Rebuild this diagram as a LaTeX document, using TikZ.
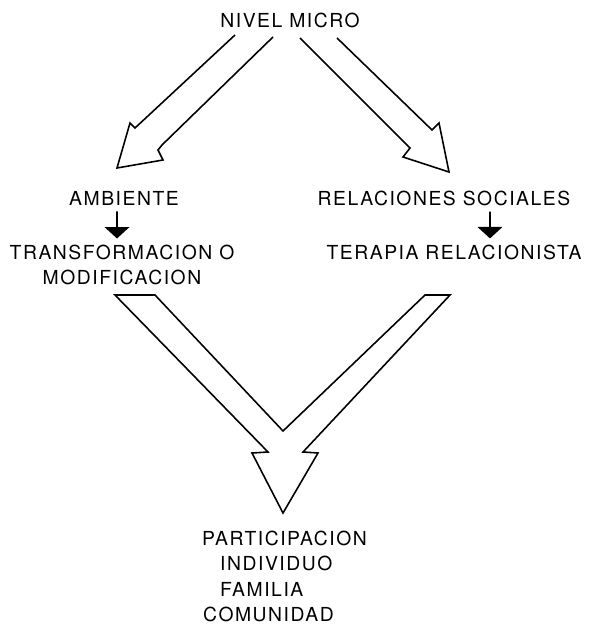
\documentclass[tikz,border=0pt]{standalone}
\usepackage{fontspec}
\setmainfont{TeX Gyre Heros}[LetterSpace=8]
\usetikzlibrary{arrows.meta}
\tikzset{
  lbl/.style={font=\fontsize{11}{14.7}\selectfont},
  bigarrow/.style={line width=0.9pt, line join=miter},
  smallarrow/.style={line width=1.1pt, -{Triangle[width=14pt,length=6.5pt]}}
}

\begin{document}
\begin{tikzpicture}[x=0.02cm, y=-0.02cm]
  \useasboundingbox (0,0) rectangle (591,625);

  \node [lbl] (micro) at (290, 20) {NIVEL MICRO};

  \node [lbl] (amb) at (124, 198) {AMBIENTE};
  \node [lbl, align=center] (trans) at (122, 265) {TRANSFORMACION O\\MODIFICACION};
  \draw [smallarrow] ([xshift=-0.14cm]amb.south) -- ([xshift=-0.1cm]trans.north);

  \node [lbl] (rel) at (444, 198) {RELACIONES SOCIALES};
  \node [lbl] (ter) at (454, 252) {TERAPIA RELACIONISTA};
  \draw [smallarrow] ([xshift=0.92cm]rel.south) -- ([xshift=0.72cm]ter.north);

  \node [lbl, anchor=west] (part) at (196, 538) {PARTICIPACION};
  \node [lbl, anchor=west] (ind)  at (214, 563) {INDIVIDUO};
  \node [lbl, anchor=west] (fam)  at (214, 589) {FAMILIA};
  \node [lbl, anchor=west] (com)  at (197, 614) {COMUNIDAD};

  % micro -> ambiente
  \draw [bigarrow] (235,35) -- (135,128) -- (130,123) -- (117,168) -- (163,160)
    -- (158,150) -- (162,145) -- (273,37);
  % micro -> relaciones
  \draw [bigarrow] (337,38) -- (432,130) -- (439,123) -- (449,172) -- (403,157)
    -- (410,148) -- (300,38);
  % both -> participacion
  \draw [bigarrow] (155,295) -- (115,295) -- (268,452) -- (252,453) -- (283,513)
    -- (318,453) -- (303,452) -- (450,295) -- (425,295) -- (283,431) -- cycle;
\end{tikzpicture}
\end{document}
